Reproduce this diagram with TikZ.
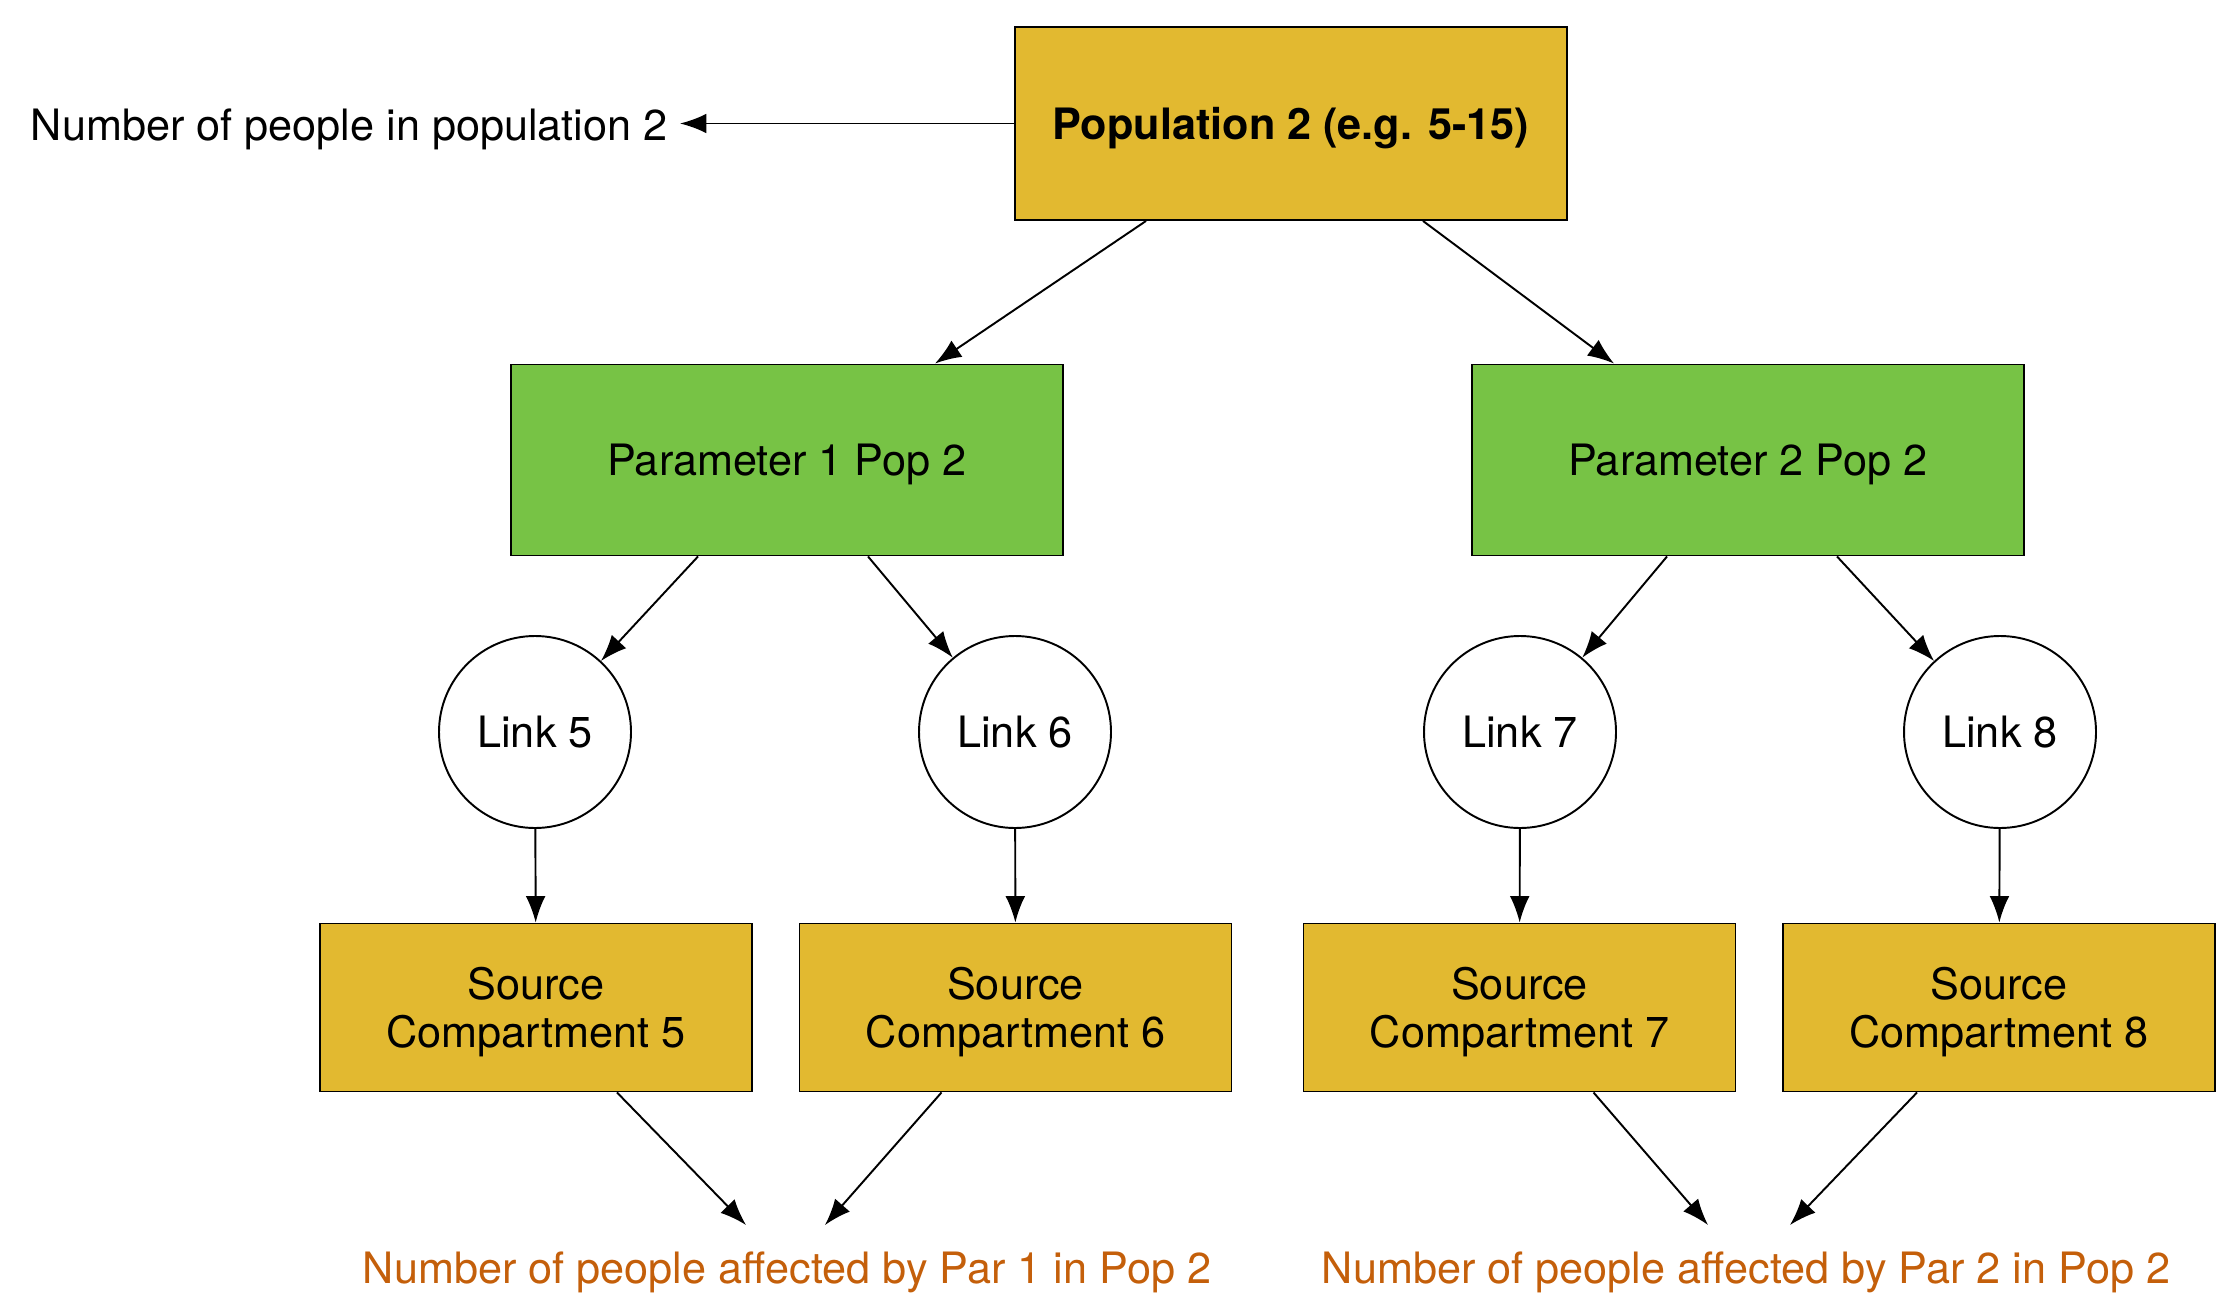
\documentclass[tikz,border=0pt]{standalone}
\usepackage{fontspec}
\setmainfont{TeX Gyre Heros}
\usepackage{tikz}
\usetikzlibrary{arrows.meta}

\definecolor{boxgold}{RGB}{226,185,48}
\definecolor{boxgreen}{RGB}{119,195,69}
\definecolor{notetext}{RGB}{196,95,10}

\tikzset{
    popbox/.style={rectangle, draw, fill=boxgold, line width=0.55pt, minimum width=5.52cm, minimum height=1.93cm, text depth=0pt, font=\fontsize{12.3}{13.8}\selectfont\bfseries},
    parbox/.style={rectangle, draw, fill=boxgreen, line width=0.55pt, minimum width=5.52cm, minimum height=1.91cm, text depth=0pt},
    linknode/.style={circle, draw, line width=0.55pt, minimum size=1.92cm},
    srcbox/.style={rectangle, draw, fill=boxgold, line width=0.55pt, minimum width=4.32cm, minimum height=1.68cm, align=center, text depth=0pt},
    note/.style={text=notetext},
    arrow/.style={line width=0.55pt, -{Latex[length=7.5pt, width=5.6pt]}}
}

\begin{document}
\begin{tikzpicture}[font=\fontsize{12.3}{13.8}\selectfont]
            \useasboundingbox (0,0) rectangle (22.38,-13.14);
            % Nodes
            \node[popbox] (pop) at (12.91,-1.235) {Population 2 (e.g. 5-15)};
            \node[anchor=east] (poplabel) at (6.80,-1.29) {Number of people in population 2};
            \node[parbox] (par1) at (7.87,-4.60) {Parameter 1 Pop 2};
            \node[parbox] (par2) at (17.48,-4.60) {Parameter 2 Pop 2};
            \node[linknode] (link5) at (5.35,-7.32) {Link 5};
            \node[linknode] (link6) at (10.15,-7.32) {Link 6};
            \node[linknode] (link7) at (15.20,-7.32) {Link 7};
            \node[linknode] (link8) at (20.00,-7.32) {Link 8};
            \node[srcbox] (src5) at (5.36,-10.075) {Source\\Compartment 5};
            \node[srcbox] (src6) at (10.155,-10.075) {Source\\Compartment 6};
            \node[srcbox] (src7) at (15.195,-10.075) {Source\\Compartment 7};
            \node[srcbox] (src8) at (19.99,-10.075) {Source\\Compartment 8};
            \node[note] (aff1) at (7.87,-12.72) {Number of people affected by Par 1 in Pop 2};
            \node[note] (aff2) at (17.46,-12.72) {Number of people affected by Par 2 in Pop 2};
            \coordinate (in5) at (7.46,-12.25);
            \coordinate (in6) at (8.25,-12.25);
            \coordinate (in7) at (17.08,-12.25);
            \coordinate (in8) at (17.90,-12.25);
            % Connections
            \draw[arrow] (pop.west) -- (poplabel.east |- pop.west);
            \draw[arrow] ([xshift=-1.45cm]pop.south) -- ([xshift=1.48cm]par1.north);
            \draw[arrow] ([xshift=1.32cm]pop.south) -- ([xshift=-1.34cm]par2.north);
            \draw[arrow] ([xshift=-0.89cm]par1.south) -- (link5);
            \draw[arrow] ([xshift=0.81cm]par1.south) -- (link6);
            \draw[arrow] ([xshift=-0.81cm]par2.south) -- (link7);
            \draw[arrow] ([xshift=0.89cm]par2.south) -- (link8);
            \draw[arrow] (link5) -- (src5);
            \draw[arrow] (link6) -- (src6);
            \draw[arrow] (link7) -- (src7);
            \draw[arrow] (link8) -- (src8);
            \draw[arrow] ([xshift=0.81cm]src5.south) -- (in5);
            \draw[arrow] ([xshift=-0.74cm]src6.south) -- (in6);
            \draw[arrow] ([xshift=0.74cm]src7.south) -- (in7);
            \draw[arrow] ([xshift=-0.82cm]src8.south) -- (in8);
        \end{tikzpicture}
\end{document}
